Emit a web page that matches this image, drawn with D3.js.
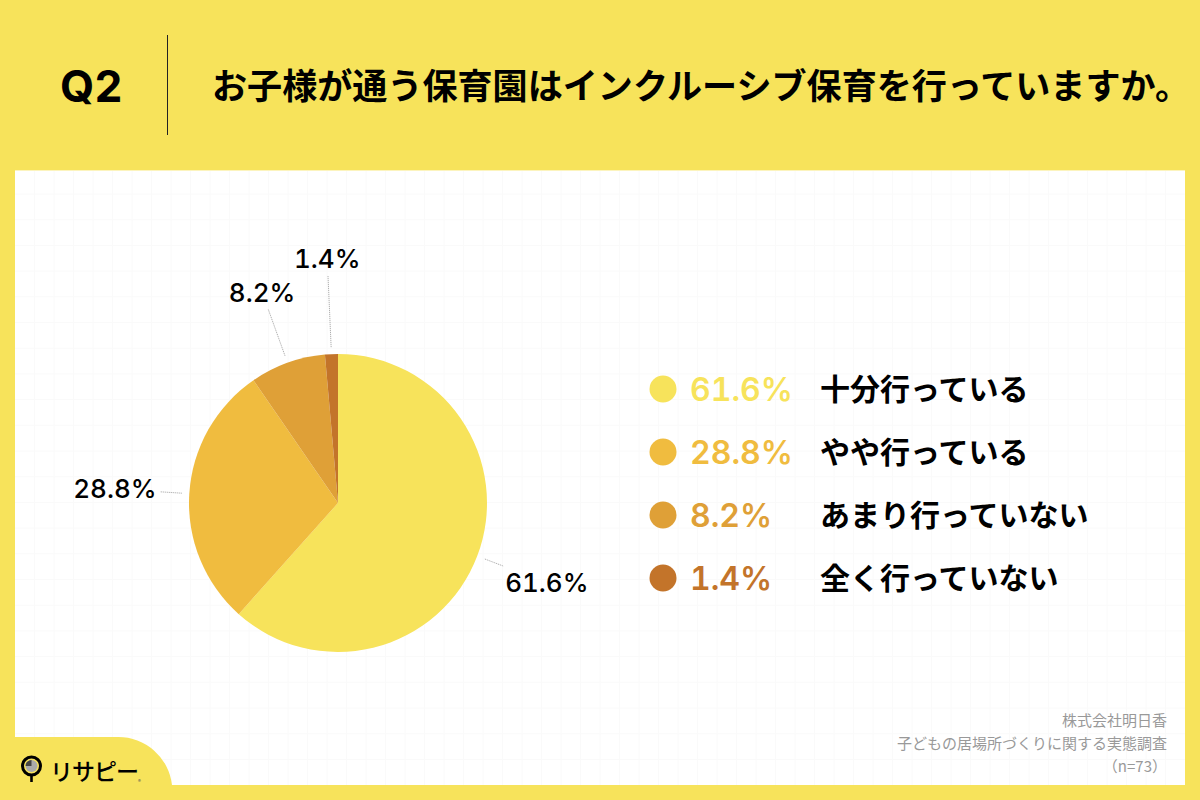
<!DOCTYPE html>
<meta charset="utf-8">
<style>
  html, body { margin: 0; padding: 0; background: #f7e35b; }
  svg { display: block; font-family: "Noto Sans CJK JP", sans-serif; }
  .num { font-family: Inter, "Noto Sans", sans-serif; font-variant-numeric: tabular-nums; font-feature-settings: "tnum"; }
</style>
<body>
<svg id="chart" width="1200" height="800"></svg>

<script src="https://d3js.org/d3.v7.min.js"></script>
<script>
const answers = ["十分行っている", "やや行っている", "あまり行っていない", "全く行っていない"];
const percents = [61.6, 28.8, 8.2, 1.4];
const colors = ["#f7e35b", "#f0bc3f", "#dfa037", "#c3742a"];
const title = "お子様が通う保育園はインクルーシブ保育を行っていますか。";
const sourceLines = ["株式会社明日香", "子どもの居場所づくりに関する実態調査", "（n=73）"];

const yellow = "#f7e35b";
const svg = d3.select("#chart");

// card
svg.append("rect").attr("x", 15).attr("y", 170.4).attr("width", 1170).attr("height", 614.6).attr("fill", "#fff");

// faint background grid
const grid = svg.append("g").attr("stroke", "#fafafa").attr("stroke-width", 1);
grid.selectAll("line.v").data(d3.range(34.5, 1185, 19.5)).join("line")
  .attr("class", "v").attr("x1", d => d).attr("x2", d => d).attr("y1", 171).attr("y2", 785);
grid.selectAll("line.h").data(d3.range(194, 785, 25.7)).join("line")
  .attr("class", "h").attr("x1", 15).attr("x2", 1185).attr("y1", d => d).attr("y2", d => d);

// header
svg.append("text").attr("class", "num").attr("x", 60).attr("y", 102)
  .attr("font-size", 44).attr("font-weight", 700).attr("fill", "#000").text("Q2");
svg.append("line").attr("x1", 167.5).attr("x2", 167.5).attr("y1", 35).attr("y2", 135)
  .attr("stroke", "#222").attr("stroke-width", 1);
svg.append("text").attr("x", 212).attr("y", 99).attr("font-size", 35.1).attr("font-weight", 700)
  .attr("fill", "#000").text(title);

// pie
const cx = 338, cy = 503, r = 149;
const pie = d3.pie().sort(null)(percents);
const arc = d3.arc().innerRadius(0).outerRadius(r);
const g = svg.append("g").attr("transform", `translate(${cx},${cy})`);
g.selectAll("path").data(pie).join("path")
  .attr("d", arc)
  .attr("fill", (d, i) => colors[i]);

// leaders + value labels, placed along each slice's mid angle
const leaderFrom = [1.055, 1.05, 1.05, 1.047];
const leaderTo = [1.19, 1.195, 1.385, 1.53];
const labelR = [1.5, 1.5, 1.505, 1.645];
const polar = (a, k) => [Math.sin(a) * r * k, -Math.cos(a) * r * k];
const mid = d => (d.startAngle + d.endAngle) / 2;

g.selectAll("line").data(pie).join("line")
  .attr("x1", (d, i) => polar(mid(d), leaderFrom[i])[0])
  .attr("y1", (d, i) => polar(mid(d), leaderFrom[i])[1])
  .attr("x2", (d, i) => polar(mid(d), leaderTo[i])[0])
  .attr("y2", (d, i) => polar(mid(d), leaderTo[i])[1])
  .attr("stroke", "#999").attr("stroke-width", 0.8).attr("stroke-dasharray", "1.2 0.8");

g.selectAll("text").data(pie).join("text")
  .attr("class", "num")
  .attr("x", (d, i) => polar(mid(d), labelR[i])[0])
  .attr("y", (d, i) => polar(mid(d), labelR[i])[1] + 9.5)
  .attr("text-anchor", "middle")
  .attr("font-size", 26).attr("font-weight", 500).attr("fill", "#000")
  .text(d => d.data + "%");

// legend
const legendY = d3.scalePoint().domain(answers).range([389, 578]);
const legend = svg.append("g").selectAll("g").data(answers).join("g")
  .attr("transform", d => `translate(0,${legendY(d)})`);
legend.append("circle").attr("cx", 663).attr("r", 13.5).attr("fill", (d, i) => colors[i]);
legend.append("text").attr("class", "num").attr("x", 690).attr("y", 12)
  .attr("font-size", 32).attr("font-weight", 600).attr("fill", (d, i) => colors[i])
  .text((d, i) => percents[i] + "%");
legend.append("text").attr("x", 820).attr("y", 11)
  .attr("font-size", 30).attr("font-weight", 700).attr("fill", "#000").text(d => d);

// source note
svg.append("g").selectAll("text").data(sourceLines).join("text")
  .attr("x", 1167).attr("y", (d, i) => 726 + i * 23)
  .attr("text-anchor", "end").attr("font-size", 15).attr("fill", "#999").text(d => d);

// logo tab
svg.append("path").attr("d", "M0,737H118A54,54 0 0 1 172,785V800H0Z").attr("fill", yellow);
const logo = svg.append("g");
logo.append("circle").attr("cx", 31.5).attr("cy", 766).attr("r", 9).attr("fill", yellow)
  .attr("stroke", "#000").attr("stroke-width", 3);
logo.append("circle").attr("cx", 31.5).attr("cy", 766).attr("r", 6).attr("fill", "#aaa");
logo.append("path").attr("transform", "translate(31.5,766)")
  .attr("d", d3.arc().innerRadius(0).outerRadius(6).startAngle(0).endAngle(-Math.PI / 2)())
  .attr("fill", "#444");
logo.append("line").attr("x1", 31.5).attr("x2", 31.5).attr("y1", 776).attr("y2", 782)
  .attr("stroke", "#000").attr("stroke-width", 2.6);
logo.append("text").attr("x", 50).attr("y", 780).attr("font-size", 23).attr("font-weight", 500)
  .attr("letter-spacing", -1).attr("fill", "#000").text("リサピー");
logo.append("text").attr("x", 138).attr("y", 784).attr("font-size", 6).attr("fill", "#555").text("®");
</script>
</body>
